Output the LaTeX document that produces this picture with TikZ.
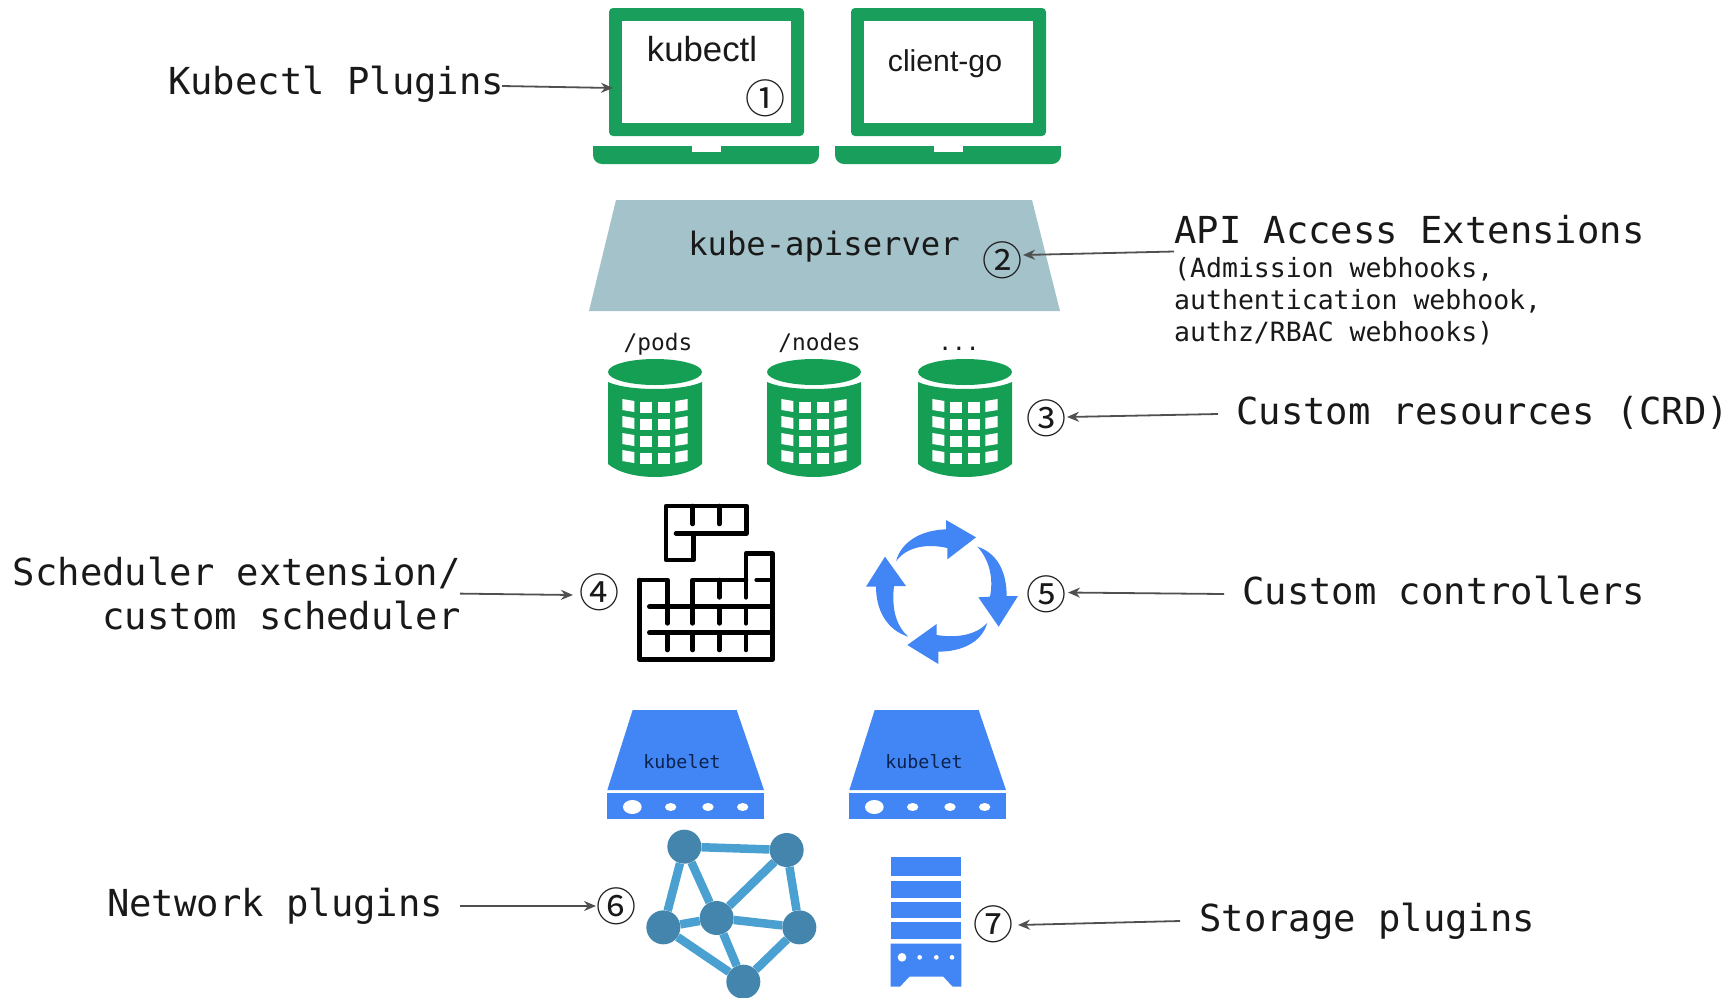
\documentclass[tikz,border=0pt]{standalone}
\usepackage{fontspec}
\usetikzlibrary{arrows.meta}
\setmainfont{Liberation Sans}
\newfontfamily\monof{DejaVu Sans Mono}
\newfontfamily\circf{Noto Sans CJK SC}
\definecolor{lapgreen}{HTML}{1A9E5C}
\definecolor{cylgreen}{HTML}{159F55}
\definecolor{apiblue}{HTML}{A3C2C9}
\definecolor{gblue}{HTML}{4285F4}
\definecolor{netedge}{HTML}{4AA0D0}
\definecolor{netnode}{HTML}{4385AC}
\definecolor{arrowgrey}{HTML}{505050}
\definecolor{kubetext}{HTML}{0A2350}
\pgfdeclarelayer{behind}
\pgfsetlayers{behind,main}
\tikzset{
  biglabel/.style={font=\monof\fontsize{37.2}{37.2}\selectfont,inner sep=0pt,text=black!90},
  smalllabel/.style={font=\monof\fontsize{26.5}{26.5}\selectfont,inner sep=0pt,text=black!90},
  reslabel/.style={font=\monof\fontsize{22.8}{22.8}\selectfont,inner sep=0pt,text=black!90},
  numlabel/.style={font=\circf\fontsize{40}{40}\selectfont,inner sep=0pt,text=black!90},
  arw/.style={draw=arrowgrey,fill=arrowgrey,line width=1.8pt,-{Stealth[length=12pt,width=10pt]}},
  netdot/.style={circle,fill=netnode,minimum size=34pt,inner sep=0pt},
  netline/.style={draw=netedge,line width=8.5pt},
  tetris/.style={draw=black,line width=4.6pt,line cap=round,line join=round},
  z2/.style={shift={(590,320)},x=0.33333pt,y=-0.33333pt},
  z3/.style={shift={(590,700)},x=0.33333pt,y=-0.33333pt},
  laptop/.pic={
    \fill[lapgreen,rounded corners=4pt] (0,0) rectangle (195,128);
    \fill[white] (13,13) rectangle (182,115);
    \fill[lapgreen,rounded corners=9pt] (-16,138) -- (210,138) -- (210,156) -- (-16,156) -- cycle;
    \fill[lapgreen] (-16,138) rectangle (210,146);
    \fill[white] (83,138) rectangle (112,144);
  },
  dbcyl/.pic={
    \fill[cylgreen] (0,10) .. controls (20,19.3) and (74,19.3) .. (94,10) -- (94,92)
       .. controls (74,109.3) and (20,109.3) .. (0,92) -- cycle;
    \fill[cylgreen] (47,0) ellipse [x radius=47,y radius=13];
    \foreach \yo in {27,44,61,78}{
      \fill[white] (14.3,\yo) -- (26.3,\yo+2) -- (26.3,\yo+13) -- (14.3,\yo+11) -- cycle;
      \fill[white] (32,\yo+3) rectangle (44.3,\yo+14);
      \fill[white] (49.7,\yo+3) rectangle (62,\yo+14);
      \fill[white] (67.3,\yo+2) -- (79.7,\yo) -- (79.7,\yo+11) -- (67.3,\yo+13) -- cycle;
    }
  },
  kubeletbox/.pic={
    \fill[gblue] (128,30) -- (440,30) -- (522,270) -- (52,270) -- cycle;
    \fill[gblue] (52,278) rectangle (522,358);
    \fill[white] (127,321) ellipse [x radius=28,y radius=21];
    \fill[white] (242,321) ellipse [x radius=17,y radius=12];
    \fill[white] (354,321) ellipse [x radius=17,y radius=12];
    \fill[white] (458,321) ellipse [x radius=17,y radius=12];
  },
}
\begin{document}
\begin{tikzpicture}[x=1pt,y=-1pt]
\useasboundingbox (0,0) rectangle (1730,997);
% laptops
\pic at (609,8) {laptop};
\pic at (851,8) {laptop};
\node[font=\fontsize{34.8}{34.8}\selectfont,inner sep=0pt,anchor=base,text=black!90] (kubectl) at (702,61) {kubectl};
\node[font=\fontsize{30.2}{30.2}\selectfont,inner sep=0pt,anchor=base,text=black!90] (clientgo) at (945,71) {client-go};
% api server
\fill[apiblue] (616,200) -- (1032,200) -- (1060,311) -- (589,311) -- cycle;
\node[font=\monof\fontsize{32.2}{32.2}\selectfont,inner sep=0pt,anchor=base,text=black!90] (api) at (824,255) {kube-apiserver};
% cylinders
\pic at (608,372) {dbcyl};
\pic at (767,372) {dbcyl};
\pic at (918,372) {dbcyl};
\node[reslabel,anchor=base] (pods) at (658,350) {/pods};
\node[reslabel,anchor=base] (nodes) at (819.5,350) {/nodes};
\node[reslabel,anchor=base] (dots) at (959,350) {...};
% scheduler icon
\begin{scope}[z2]
  \draw[tetris] (228,558) -- (470,558) -- (470,640) -- (310,640) -- (310,720) -- (228,720) -- cycle;
  \draw[tetris] (258,640) -- (310,640);
  \draw[tetris] (308,558) -- (308,612) (388,558) -- (388,612);
  \draw[tetris] (148,780) -- (232,780) -- (232,910);
  \draw[tetris] (148,780) -- (148,1018) -- (548,1018) -- (548,700) -- (468,700) -- (468,832);
  \draw[tetris] (468,780) -- (308,780) -- (308,910);
  \draw[tetris] (388,780) -- (388,832);
  \draw[tetris] (178,860) -- (548,860);
  \draw[tetris] (500,780) -- (548,780);
  \draw[tetris] (388,860) -- (388,910) (468,860) -- (468,910);
  \draw[tetris] (178,938) -- (548,938);
  \foreach \xx in {232,308,388,468} \draw[tetris] (\xx,938) -- (\xx,990);
  % controller arrows
  \fill[gblue] (918,724) .. controls (935,660) and (1000,630) .. (1068,628) -- (1068,600) -- (1158,652) -- (1072,718) -- (1072,684) .. controls (1010,670) and (950,680) .. (918,724) -- cycle;
  \fill[gblue] (1162,680) .. controls (1225,700) and (1250,760) .. (1250,828) -- (1284,828) -- (1226,920) -- (1165,832) -- (1200,830) .. controls (1212,770) and (1195,715) .. (1162,680) -- cycle;
  \fill[gblue] (1192,908) .. controls (1175,970) and (1110,995) .. (1045,995) -- (1045,1032) -- (952,975) -- (1040,912) -- (1040,945) .. controls (1100,955) and (1160,945) .. (1192,908) -- cycle;
  \fill[gblue] (955,950) .. controls (890,930) and (858,870) .. (858,800) -- (828,800) -- (885,710) -- (948,798) -- (912,798) .. controls (905,860) and (915,915) .. (955,950) -- cycle;
\end{scope}
% kubelets
\begin{scope}[z3]
  \pic at (0,0) {kubeletbox};
  \pic at (726,0) {kubeletbox};
  % storage
  \fill[gblue] (902,472) rectangle (1114,528);
  \fill[gblue] (902,542) rectangle (1114,593);
  \fill[gblue] (902,607) rectangle (1114,653);
  \fill[gblue] (902,667) rectangle (1114,717);
  \fill[gblue] (902,731) -- (1114,731) -- (1114,860) -- (1088,860) -- (1060,830) -- (958,830) -- (930,860) -- (902,860) -- cycle;
  \fill[white] (936,772) circle [radius=13];
  \fill[white] (989,772) circle [radius=7];
  \fill[white] (1039,772) circle [radius=7];
  \fill[white] (1086,772) circle [radius=7];
  % network
  \node[netdot] (na) at (283,440) {};
  \node[netdot] (nb) at (590,450) {};
  \node[netdot] (nc) at (220,682) {};
  \node[netdot] (nd) at (380,654) {};
  \node[netdot] (ne) at (628,682) {};
  \node[netdot] (nf) at (460,845) {};
  \begin{pgfonlayer}{behind}
  \draw[netline] (na) -- (nb) (na) -- (nc) (na) -- (nd) (nb) -- (nd) (nb) -- (ne) (nc) -- (nd) (nd) -- (ne) (nc) -- (nf) (nd) -- (nf) (ne) -- (nf);
  \end{pgfonlayer}
\end{scope}
\node[font=\monof\fontsize{18.3}{18.3}\selectfont,inner sep=0pt,anchor=base,text=kubetext] (kl1) at (682,768) {kubelet};
\node[font=\monof\fontsize{18.3}{18.3}\selectfont,inner sep=0pt,anchor=base,text=kubetext] (kl2) at (924,768) {kubelet};
% numbers
\node[numlabel] (n1) at (765,98) {①};
\node[numlabel] (n2) at (1002,260) {②};
\node[numlabel] (n3) at (1046,418) {③};
\node[numlabel] (n4) at (599,592) {④};
\node[numlabel] (n5) at (1046,594) {⑤};
\node[numlabel] (n6) at (616,906) {⑥};
\node[numlabel] (n7) at (993,924) {⑦};
% labels
\node[biglabel,anchor=base west] (l1) at (168,94.5) {Kubectl Plugins};
\node[biglabel,anchor=base west] (l2) at (1174,243) {API Access Extensions};
\node[smalllabel,anchor=base west] (l2a) at (1174,277) {(Admission webhooks,};
\node[smalllabel,anchor=base west] (l2b) at (1174,309) {authentication webhook,};
\node[smalllabel,anchor=base west] (l2c) at (1174,341) {authz/RBAC webhooks)};
\node[biglabel,anchor=base west] (l3) at (1236,424) {Custom resources (CRD)};
\node[biglabel,anchor=base east] (l4a) at (461,585) {Scheduler extension/};
\node[biglabel,anchor=base east] (l4b) at (461,629) {custom scheduler};
\node[biglabel,anchor=base west] (l5) at (1242,604) {Custom controllers};
\node[biglabel,anchor=base west] (l6) at (107,916) {Network plugins};
\node[biglabel,anchor=base west] (l7) at (1199,931) {Storage plugins};
% arrows
\coordinate (s1) at (502,86);  \coordinate (e1) at (613,88);
\coordinate (s2) at (1174,251.5); \coordinate (e2) at (1023,255);
\coordinate (s3) at (1218,414); \coordinate (e3) at (1067,417);
\coordinate (s4) at (460,593.6); \coordinate (e4) at (573,595);
\coordinate (s5) at (1224,594); \coordinate (e5) at (1068,592.5);
\coordinate (s6) at (460,906); \coordinate (e6) at (596,906);
\coordinate (s7) at (1180,921); \coordinate (e7) at (1018,925);
\draw[arw] (s1) -- (e1);
\draw[arw] (s2) -- (e2);
\draw[arw] (s3) -- (e3);
\draw[arw] (s4) -- (e4);
\draw[arw] (s5) -- (e5);
\draw[arw] (s6) -- (e6);
\draw[arw] (s7) -- (e7);
\end{tikzpicture}
\end{document}
